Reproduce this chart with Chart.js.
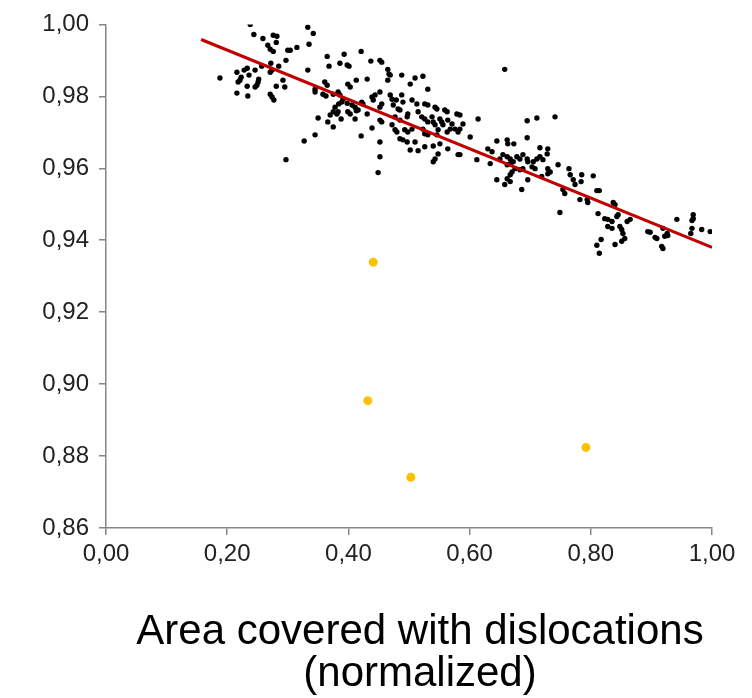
<!DOCTYPE html>
<html>
<head>
<meta charset="utf-8">
<script src="https://cdn.jsdelivr.net/npm/chart.js@4"></script>
<style>
  html, body { margin: 0; padding: 0; background: #fff; }
  canvas { display: block; }
</style>
</head>
<body>
<canvas id="chart" width="752" height="698"></canvas>
<script>
// measured samples, [area fraction, value]
const clusterLow = [
  [0.238,1.0000],[0.244,0.9972],[0.259,0.9961],[0.276,0.9970],[0.282,0.9967],[0.281,0.9950],
  [0.267,0.9942],[0.271,0.9931],[0.276,0.9925],[0.300,0.9928],[0.297,0.9900],[0.272,0.9892],
  [0.285,0.9884],[0.274,0.9873],[0.271,0.9867],[0.257,0.9884],[0.246,0.9873],[0.233,0.9878],
  [0.228,0.9873],[0.216,0.9867],[0.236,0.9859],[0.223,0.9853],[0.221,0.9845],[0.218,0.9840],
  [0.188,0.9851],[0.252,0.9848],[0.251,0.9840],[0.249,0.9831],[0.246,0.9826],[0.292,0.9845],
  [0.295,0.9826],[0.281,0.9828],[0.233,0.9828],[0.216,0.9809],[0.234,0.9801],[0.271,0.9806],
  [0.274,0.9798],[0.277,0.9790],[0.297,0.9624]
];

const clusterMidA = [
  [0.333,0.9992],[0.342,0.9975],[0.315,0.9936],[0.304,0.9928],[0.335,0.9945],[0.365,0.9911],
  [0.393,0.9917],[0.421,0.9925],[0.437,0.9898],[0.368,0.9884],[0.386,0.9892],[0.398,0.9887],
  [0.401,0.9884],[0.333,0.9873],[0.413,0.9845],[0.431,0.9848],[0.399,0.9834],[0.403,0.9826],
  [0.361,0.9840],[0.365,0.9831],[0.345,0.9820],[0.345,0.9812],[0.358,0.9806],[0.363,0.9801],
  [0.375,0.9806],[0.383,0.9812],[0.386,0.9804],[0.391,0.9792],[0.389,0.9784],[0.384,0.9779],
  [0.398,0.9781],[0.406,0.9776],[0.411,0.9770],[0.422,0.9784],[0.424,0.9779],[0.439,0.9798],
  [0.441,0.9790],[0.378,0.9770],[0.375,0.9757],[0.370,0.9748],[0.383,0.9757],[0.381,0.9751],
  [0.399,0.9757],[0.403,0.9751],[0.416,0.9762],[0.413,0.9760],[0.431,0.9751],[0.350,0.9740],
  [0.366,0.9729],[0.388,0.9737],[0.411,0.9737],[0.375,0.9715],[0.439,0.9712],[0.345,0.9693],
  [0.327,0.9676],[0.421,0.9690]
];

const clusterMidB = [
  [0.452,0.9900],[0.455,0.9895],[0.465,0.9875],[0.467,0.9862],[0.469,0.9859],[0.488,0.9859],
  [0.465,0.9845],[0.502,0.9834],[0.510,0.9851],[0.523,0.9856],[0.531,0.9820],[0.452,0.9812],
  [0.444,0.9804],[0.469,0.9804],[0.472,0.9792],[0.479,0.9790],[0.488,0.9804],[0.490,0.9784],
  [0.505,0.9790],[0.513,0.9779],[0.455,0.9779],[0.452,0.9770],[0.474,0.9776],[0.482,0.9765],
  [0.485,0.9762],[0.526,0.9779],[0.531,0.9776],[0.543,0.9770],[0.546,0.9765],[0.559,0.9762],
  [0.563,0.9757],[0.579,0.9751],[0.498,0.9751],[0.497,0.9743],[0.515,0.9757],[0.477,0.9743],
  [0.485,0.9734],[0.452,0.9734],[0.455,0.9729],[0.521,0.9743],[0.526,0.9737],[0.531,0.9729],
  [0.538,0.9743],[0.540,0.9729],[0.543,0.9721],[0.551,0.9737],[0.554,0.9729],[0.556,0.9721],
  [0.564,0.9734],[0.571,0.9723],[0.472,0.9721],[0.477,0.9707],[0.480,0.9701],[0.493,0.9707],
  [0.498,0.9701],[0.505,0.9709],[0.523,0.9709],[0.526,0.9696],[0.531,0.9693],[0.548,0.9707],
  [0.546,0.9693],[0.563,0.9701],[0.568,0.9709],[0.576,0.9709],[0.581,0.9701],[0.485,0.9682],
  [0.490,0.9679],[0.497,0.9673],[0.510,0.9673],[0.526,0.9660],[0.540,0.9662],[0.551,0.9668],
  [0.564,0.9654],[0.502,0.9651],[0.515,0.9649],[0.548,0.9640],[0.543,0.9626],[0.540,0.9618],
  [0.581,0.9638],[0.452,0.9673],[0.452,0.9632],[0.449,0.9588]
];

const clusterHighA = [
  [0.658,0.9875],[0.584,0.9748],[0.589,0.9723],[0.584,0.9709],[0.614,0.9737],[0.695,0.9732],
  [0.711,0.9740],[0.695,0.9685],[0.601,0.9687],[0.645,0.9676],[0.662,0.9679],[0.663,0.9668],
  [0.673,0.9668],[0.630,0.9654],[0.637,0.9646],[0.716,0.9657],[0.584,0.9638],[0.612,0.9624],
  [0.634,0.9613],[0.650,0.9626],[0.655,0.9638],[0.662,0.9632],[0.667,0.9626],[0.672,0.9618],
  [0.667,0.9613],[0.662,0.9610],[0.678,0.9632],[0.683,0.9626],[0.688,0.9638],[0.695,0.9626],
  [0.696,0.9618],[0.705,0.9618],[0.711,0.9626],[0.716,0.9632],[0.721,0.9624],[0.675,0.9599],
  [0.670,0.9590],[0.667,0.9582],[0.683,0.9596],[0.688,0.9599],[0.703,0.9604],[0.708,0.9599],
  [0.662,0.9571],[0.667,0.9563],[0.645,0.9568],[0.696,0.9568],[0.658,0.9555],[0.686,0.9541],
  [0.719,0.9577]
];

const clusterHighB = [
  [0.741,0.9743],[0.729,0.9654],[0.728,0.9640],[0.729,0.9599],[0.733,0.9590],[0.729,0.9585],
  [0.746,0.9610],[0.764,0.9599],[0.766,0.9582],[0.771,0.9568],[0.774,0.9555],[0.785,0.9582],
  [0.784,0.9563],[0.804,0.9579],[0.754,0.9541],[0.757,0.9530],[0.782,0.9513],[0.794,0.9513],
  [0.795,0.9505],[0.810,0.9538],[0.814,0.9538],[0.749,0.9477],[0.812,0.9474],[0.837,0.9505],
  [0.840,0.9499],[0.823,0.9460],[0.828,0.9458],[0.835,0.9452],[0.843,0.9466],[0.845,0.9471],
  [0.828,0.9438],[0.835,0.9433],[0.848,0.9438],[0.851,0.9430],[0.853,0.9419],[0.856,0.9405],
  [0.860,0.9452],[0.840,0.9388],[0.817,0.9402],[0.810,0.9386],[0.814,0.9364],[0.851,0.9397],
  [0.865,0.9458]
];

const clusterTop = [
  [0.898,0.9422],[0.906,0.9408],[0.894,0.9424],[0.909,0.9405],[0.919,0.9433],[0.926,0.9419],
  [0.927,0.9413],[0.922,0.9411],[0.917,0.9383],[0.919,0.9377],[0.942,0.9458],[0.969,0.9471],
  [0.969,0.9460],[0.967,0.9455],[0.967,0.9433],[0.965,0.9419],[0.983,0.9430],[0.997,0.9424]
];

const outliers = [[0.441,0.9339],[0.432,0.8954],[0.503,0.8741],[0.792,0.8824]];

const trendX = [0.157, 1.0];
const trendY = [0.9958, 0.938];

const xTicks = [0, 0.2, 0.4, 0.6, 0.8, 1.0];
const yTicks = [0.86, 0.88, 0.90, 0.92, 0.94, 0.96, 0.98, 1.00];
const xTitle = ["Area covered with dislocations", "(normalized)"];

const toPts = arr => arr.map(p => ({ x: p[0], y: p[1] }));
const blackPts = toPts([].concat(clusterLow, clusterMidA, clusterMidB, clusterHighA, clusterHighB, clusterTop));
const fmt = v => v.toFixed(2).replace(".", ",");

const axisColor = "#868686";
const tickFont = { family: "'Liberation Sans', Arial, sans-serif", size: 24 };

// axis caption, centred like the original
const caption = {
  id: "caption",
  afterDraw(c) {
    const ctx = c.ctx;
    ctx.save();
    ctx.fillStyle = "#000";
    ctx.font = "42px 'Liberation Sans', Arial, sans-serif";
    ctx.textAlign = "center";
    ctx.textBaseline = "middle";
    ctx.fillText(xTitle[0], 420, 632);
    ctx.fillText(xTitle[1], 420, 674);
    ctx.restore();
  }
};

new Chart(document.getElementById("chart"), {
  type: "scatter",
  data: {
    datasets: [
      {
        type: "line",
        data: trendX.map((x, i) => ({ x, y: trendY[i] })),
        borderColor: "#C00000",
        borderWidth: 3,
        pointRadius: 0,
        fill: false
      },
      {
        data: toPts(outliers),
        backgroundColor: "#FFC000",
        borderWidth: 0,
        pointRadius: 4.5
      },
      {
        data: blackPts,
        backgroundColor: "#000",
        borderWidth: 0,
        pointRadius: 2.7
      }
    ]
  },
  options: {
    responsive: false,
    animation: false,
    layout: { padding: { top: 22, right: 40, left: 0, bottom: 0 } },
    plugins: {
      legend: { display: false },
      tooltip: { enabled: false }
    },
    scales: {
      x: {
        type: "linear",
        min: 0,
        max: 1,
        afterBuildTicks: s => { s.ticks = xTicks.map(v => ({ value: v })); },
        afterFit: s => { s.height = 170; },
        grid: { drawOnChartArea: false, color: axisColor, tickLength: 7, lineWidth: 1.5 },
        border: { color: axisColor, width: 1.5 },
        ticks: { color: "#222", font: tickFont, padding: 5, maxRotation: 0, callback: v => fmt(v) }
      },
      y: {
        type: "linear",
        min: 0.86,
        max: 1.0,
        afterBuildTicks: s => { s.ticks = yTicks.map(v => ({ value: v })); },
        afterFit: s => { s.width = 106; },
        grid: { drawOnChartArea: false, color: axisColor, tickLength: 7, lineWidth: 1.5 },
        border: { color: axisColor, width: 1.5 },
        ticks: { color: "#222", font: tickFont, padding: 10, callback: v => fmt(v) }
      }
    }
  },
  plugins: [caption]
});
</script>
</body>
</html>
